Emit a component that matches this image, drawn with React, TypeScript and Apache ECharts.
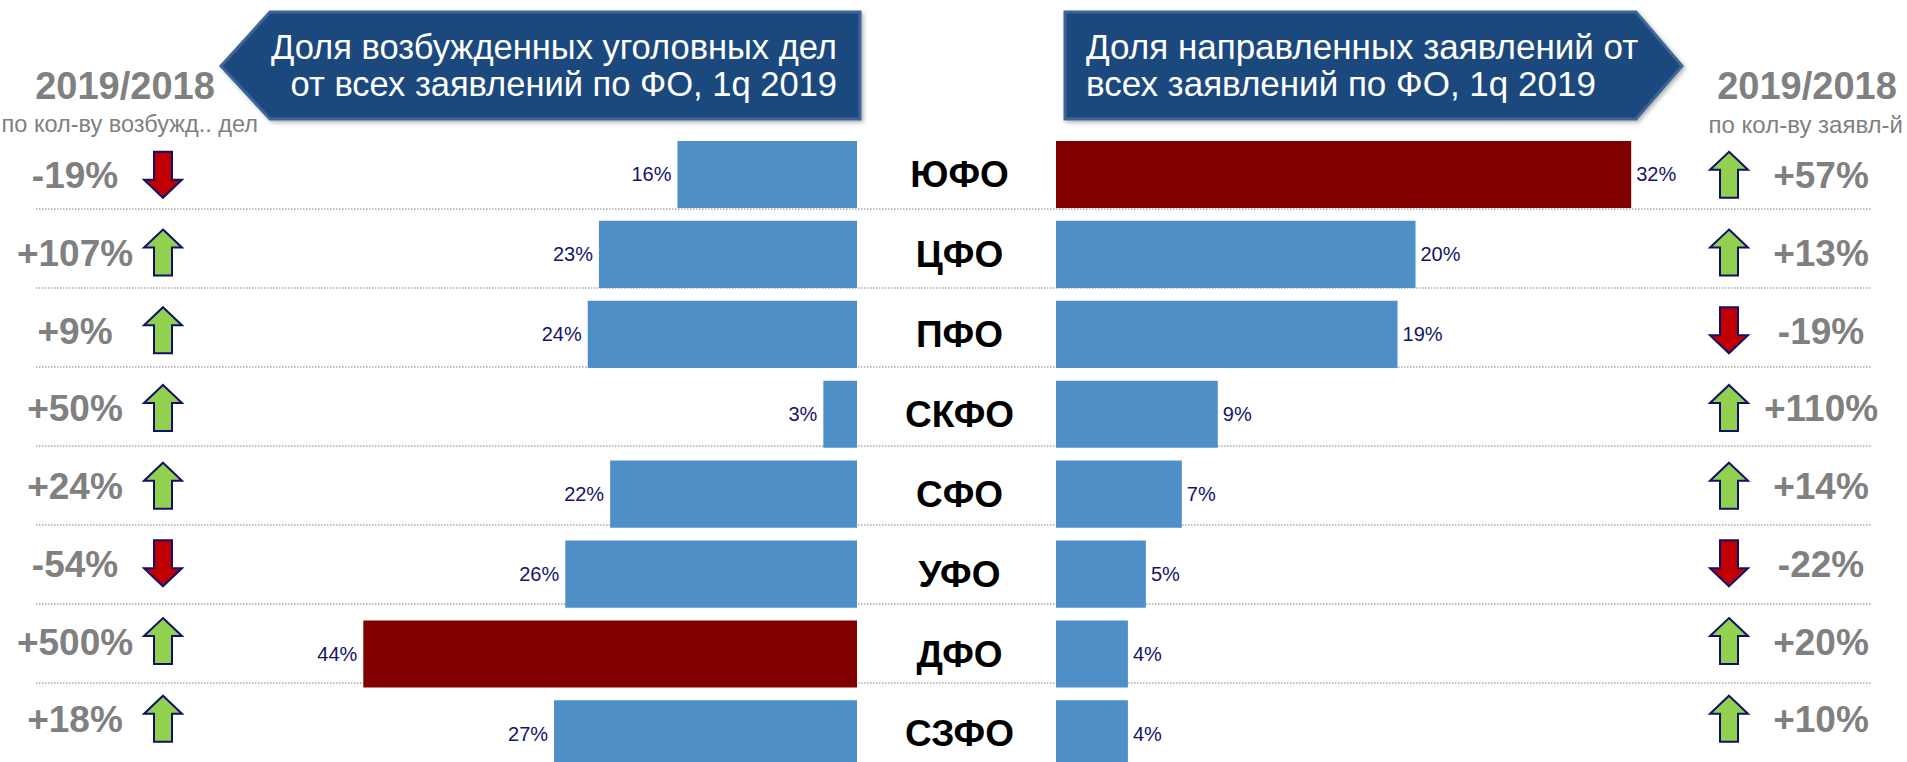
import React, { useEffect, useRef } from "react";
import * as echarts from "echarts";

const categories = ["ЮФО", "ЦФО", "ПФО", "СКФО", "СФО", "УФО", "ДФО", "СЗФО"];
const caseShare = [16, 23, 24, 3, 22, 26, 44, 27];
const applShare = [32, 20, 19, 9, 7, 5, 4, 4];
const caseChange = [-19, 107, 9, 50, 24, -54, 500, 18];
const applChange = [57, 13, -19, 110, 14, -22, 20, 10];
const leftTitle = "Доля возбужденных уголовных дел\nот всех заявлений по ФО, 1q 2019";
const rightTitle = "Доля направленных заявлений от\nвсех заявлений по ФО, 1q 2019";
const headerText = "2019/2018";
const leftSub = "по кол-ву возбужд.. дел";
const rightSub = "по кол-ву заявл-й";

const FONT = "'Liberation Sans', Arial, sans-serif";
const BLUE = "#4f8fc7";
const DARKRED = "#800000";
const NAVY = "#14146b";
const GRAY = "#808080";

function barData(arr: number[]) {
  const mx = Math.max(...arr);
  return arr.map((v) => ({ value: v, itemStyle: { color: v === mx ? DARKRED : BLUE } }));
}

function fmtChange(v: number) {
  return (v > 0 ? "+" : "") + v + "%";
}

function arrowPoints(cx: number, cy: number, up: boolean) {
  const hw = 19, sw = 9, h = 23, head = 18;
  const s = up ? 1 : -1;
  const tipY = cy - s * h;
  const baseY = cy + s * h;
  const shoulderY = tipY + s * head;
  return [
    [cx, tipY],
    [cx + hw, shoulderY],
    [cx + sw, shoulderY],
    [cx + sw, baseY],
    [cx - sw, baseY],
    [cx - sw, shoulderY],
    [cx - hw, shoulderY],
  ];
}

export default function App() {
  const ref = useRef<HTMLDivElement>(null);
  useEffect(() => {
    if (!ref.current) return;
    const chart = echarts.init(ref.current, null, { renderer: "svg" });
    const statsData = categories.map((c, i) => [0, i, caseChange[i], applChange[i]]);

    const gridBase = { outerBoundsMode: "none", containLabel: false };
    const option: any = {
      animation: false,
      backgroundColor: "#ffffff",
      grid: [
        { ...gridBase, left: 296, right: 1050, top: 134.5, height: 639.4 },
        { ...gridBase, left: 1056, right: 132, top: 134.5, height: 639.4 },
        { ...gridBase, left: 0, right: 0, top: 136, height: 621.6 },
        { ...gridBase, left: 36, right: 35, top: 130, height: 631.6 },
      ],
      xAxis: [
        { gridIndex: 0, type: "value", min: 0, max: 50, inverse: true, show: false },
        { gridIndex: 1, type: "value", min: 0, max: 40, show: false },
        { gridIndex: 2, type: "value", min: 0, max: 1, show: false },
        { gridIndex: 3, type: "value", min: 0, max: 1, show: false },
      ],
      yAxis: [
        {
          gridIndex: 0,
          type: "category",
          data: categories,
          inverse: true,
          position: "right",
          axisLine: { show: false },
          axisTick: { show: false },
          splitLine: { show: false },
          axisLabel: {
            margin: 102.5,
            align: "center",
            verticalAlign: "middle",
            fontSize: 37,
            fontWeight: "bold",
            fontFamily: FONT,
            color: "#000000",
            padding: [6, 0, 0, 0],
          },
        },
        { gridIndex: 1, type: "category", data: categories, inverse: true, show: false },
        { gridIndex: 2, type: "category", data: categories, inverse: true, show: false },
        {
          gridIndex: 3,
          type: "value",
          min: 0,
          max: 8,
          interval: 1,
          inverse: true,
          axisLine: { show: false },
          axisTick: { show: false },
          axisLabel: { show: false },
          splitLine: {
            show: true,
            showMinLine: false,
            showMaxLine: false,
            lineStyle: { color: "#a9a9a9", width: 1.5, type: [1.5, 1.5] },
          },
        },
      ],
      series: [
        {
          type: "bar",
          xAxisIndex: 0,
          yAxisIndex: 0,
          data: barData(caseShare),
          barCategoryGap: "16%",
          z: 5,
          label: {
            show: true,
            position: "left",
            distance: 6,
            formatter: "{c}%",
            fontSize: 20,
            fontFamily: FONT,
            color: NAVY,
          },
        },
        {
          type: "bar",
          xAxisIndex: 1,
          yAxisIndex: 1,
          data: barData(applShare),
          barCategoryGap: "16%",
          z: 5,
          label: {
            show: true,
            position: "right",
            distance: 5,
            formatter: "{c}%",
            fontSize: 20,
            fontFamily: FONT,
            color: NAVY,
          },
        },
        {
          type: "custom",
          xAxisIndex: 2,
          yAxisIndex: 2,
          data: statsData,
          encode: { x: 0, y: 1 },
          z: 6,
          renderItem: (params: any, api: any) => {
            const cy = api.coord([0, api.value(1)])[1];
            const lv = api.value(2) as number;
            const rv = api.value(3) as number;
            const mk = (cx: number, v: number) => ({
              type: "polygon",
              shape: { points: arrowPoints(cx, cy, v > 0) },
              style: { fill: v > 0 ? "#92d050" : "#c00000", stroke: "#10106b", lineWidth: 2 },
            });
            const tx = (cx: number, v: number) => ({
              type: "text",
              x: cx,
              y: cy + 1,
              style: {
                text: fmtChange(v),
                fill: GRAY,
                fontSize: 37,
                fontWeight: "bold",
                fontFamily: FONT,
                align: "center",
                verticalAlign: "middle",
              },
            });
            return {
              type: "group",
              children: [tx(75, lv), mk(163, lv), mk(1729, rv), tx(1821, rv)],
            };
          },
        },
        { type: "scatter", xAxisIndex: 3, yAxisIndex: 3, data: [] },
      ],
      graphic: [
        {
          type: "polygon",
          shape: { points: [[221, 66], [270, 12], [860, 12], [860, 119], [270, 119]] },
          style: {
            fill: "#1f497d",
            stroke: "#3d6596",
            lineWidth: 3,
            shadowBlur: 4,
            shadowOffsetX: 2,
            shadowOffsetY: 2,
            shadowColor: "rgba(0,0,0,0.3)",
          },
        },
        {
          type: "text",
          x: 837,
          y: 65,
          style: {
            text: leftTitle,
            fill: "#ffffff",
            fontSize: 34.5,
            fontFamily: FONT,
            lineHeight: 37,
            align: "right",
            verticalAlign: "middle",
          },
        },
        {
          type: "polygon",
          shape: { points: [[1065, 12], [1636, 12], [1682, 66], [1636, 119], [1065, 119]] },
          style: {
            fill: "#1f497d",
            stroke: "#3d6596",
            lineWidth: 3,
            shadowBlur: 4,
            shadowOffsetX: 2,
            shadowOffsetY: 2,
            shadowColor: "rgba(0,0,0,0.3)",
          },
        },
        {
          type: "text",
          x: 1086,
          y: 65,
          style: {
            text: rightTitle,
            fill: "#ffffff",
            fontSize: 35,
            fontFamily: FONT,
            lineHeight: 37,
            align: "left",
            verticalAlign: "middle",
          },
        },
        {
          type: "text",
          x: 125,
          y: 86,
          style: {
            text: headerText,
            fill: GRAY,
            fontSize: 38,
            fontWeight: "bold",
            fontFamily: FONT,
            align: "center",
            verticalAlign: "middle",
          },
        },
        {
          type: "text",
          x: 258,
          y: 124,
          style: {
            text: leftSub,
            fill: GRAY,
            fontSize: 23.5,
            fontFamily: FONT,
            align: "right",
            verticalAlign: "middle",
          },
        },
        {
          type: "text",
          x: 1807,
          y: 86,
          style: {
            text: headerText,
            fill: GRAY,
            fontSize: 38,
            fontWeight: "bold",
            fontFamily: FONT,
            align: "center",
            verticalAlign: "middle",
          },
        },
        {
          type: "text",
          x: 1903,
          y: 124,
          style: {
            text: rightSub,
            fill: GRAY,
            fontSize: 24,
            fontFamily: FONT,
            align: "right",
            verticalAlign: "middle",
          },
        },
      ],
    };
    chart.setOption(option);
    return () => chart.dispose();
  }, []);
  return (
    <div
      ref={ref}
      style={{ position: "absolute", left: 0, top: 0, width: 1907, height: 762 }}
    />
  );
}
